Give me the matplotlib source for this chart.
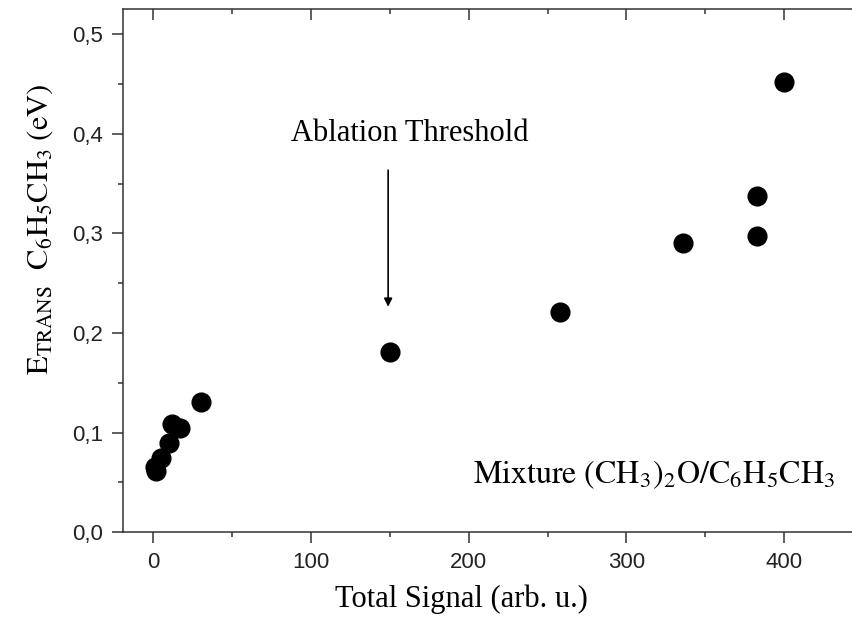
import matplotlib
matplotlib.use("Agg")
from matplotlib import pyplot as plt
from matplotlib.ticker import MultipleLocator, FuncFormatter

# data
total_signal = [1, 2, 5, 10, 12, 17, 30, 150, 258, 336, 383, 383, 400]
e_trans = [0.066, 0.062, 0.075, 0.090, 0.109, 0.105, 0.131, 0.181, 0.221, 0.290, 0.297, 0.338, 0.452]

x_ticks = [0, 100, 200, 300, 400]
y_ticks = [0.0, 0.1, 0.2, 0.3, 0.4, 0.5]

plt.rcParams['mathtext.fontset'] = 'stix'
serif = ['Liberation Serif', 'DejaVu Serif']
narrow = ['Liberation Sans Narrow', 'Liberation Sans', 'DejaVu Sans']

fig = plt.figure(figsize=(8.52, 6.2), dpi=100)
ax = fig.add_axes([0.144, 0.1415, 0.856, 0.8435])

ax.plot(total_signal, e_trans, linestyle='none', marker='o', color='black', markersize=13.5)

ax.set_xlim(-19.4, 443)
ax.set_ylim(0, 0.525)
ax.set_xticks(x_ticks)
ax.set_yticks(y_ticks)
ax.xaxis.set_minor_locator(MultipleLocator(50))
ax.yaxis.set_minor_locator(MultipleLocator(0.05))
ax.yaxis.set_major_formatter(FuncFormatter(lambda v, p: f"{v:.1f}".replace('.', ',')))

# Origin-like frame: outward ticks left/bottom, inward ticks on top, no right spine
ax.spines['right'].set_visible(False)
for s in ['left', 'bottom', 'top']:
    ax.spines[s].set_linewidth(1.1)
    ax.spines[s].set_color('#333333')
ax.tick_params(which='both', direction='out', right=False, top=False, width=1.1, color='#333333')
ax.tick_params(which='major', length=8, labelsize=16, pad=6)
ax.tick_params(which='minor', length=3.5)
top = ax.secondary_xaxis('top')
top.set_xticks(x_ticks)
top.xaxis.set_minor_locator(MultipleLocator(50))
top.tick_params(which='both', direction='in', labeltop=False, width=1.1, color='#333333')
top.tick_params(which='major', length=8)
top.tick_params(which='minor', length=3.5)
top.spines['top'].set_visible(False)
for lab in ax.get_xticklabels() + ax.get_yticklabels():
    lab.set_family(narrow)
    lab.set_color('#222222')

ax.set_xlabel('Total Signal (arb. u.)', family=serif, fontsize=22, va='center')
ax.xaxis.set_label_coords(0.464, -0.129)
ax.set_ylabel(r'$\mathrm{E_{TRANS}\ \ C_6H_5CH_3\ (eV)}$', fontsize=22, va='center')
ax.yaxis.set_label_coords(-0.113, 0.58)

ax.annotate('', xy=(148.9, 0.2264), xytext=(148.9, 0.3635),
            arrowprops=dict(arrowstyle='-|>', color='black', lw=1.2,
                            mutation_scale=12, shrinkA=0, shrinkB=0))
ax.text(162.7, 0.4007, 'Ablation Threshold', family=serif, fontsize=22,
        ha='center', va='center')
ax.text(202.6, 0.0575, r'$\mathrm{Mixture\ (CH_3)_2O/C_6H_5CH_3}$', fontsize=23,
        ha='left', va='center')

fig.savefig('out.png', dpi=100)
